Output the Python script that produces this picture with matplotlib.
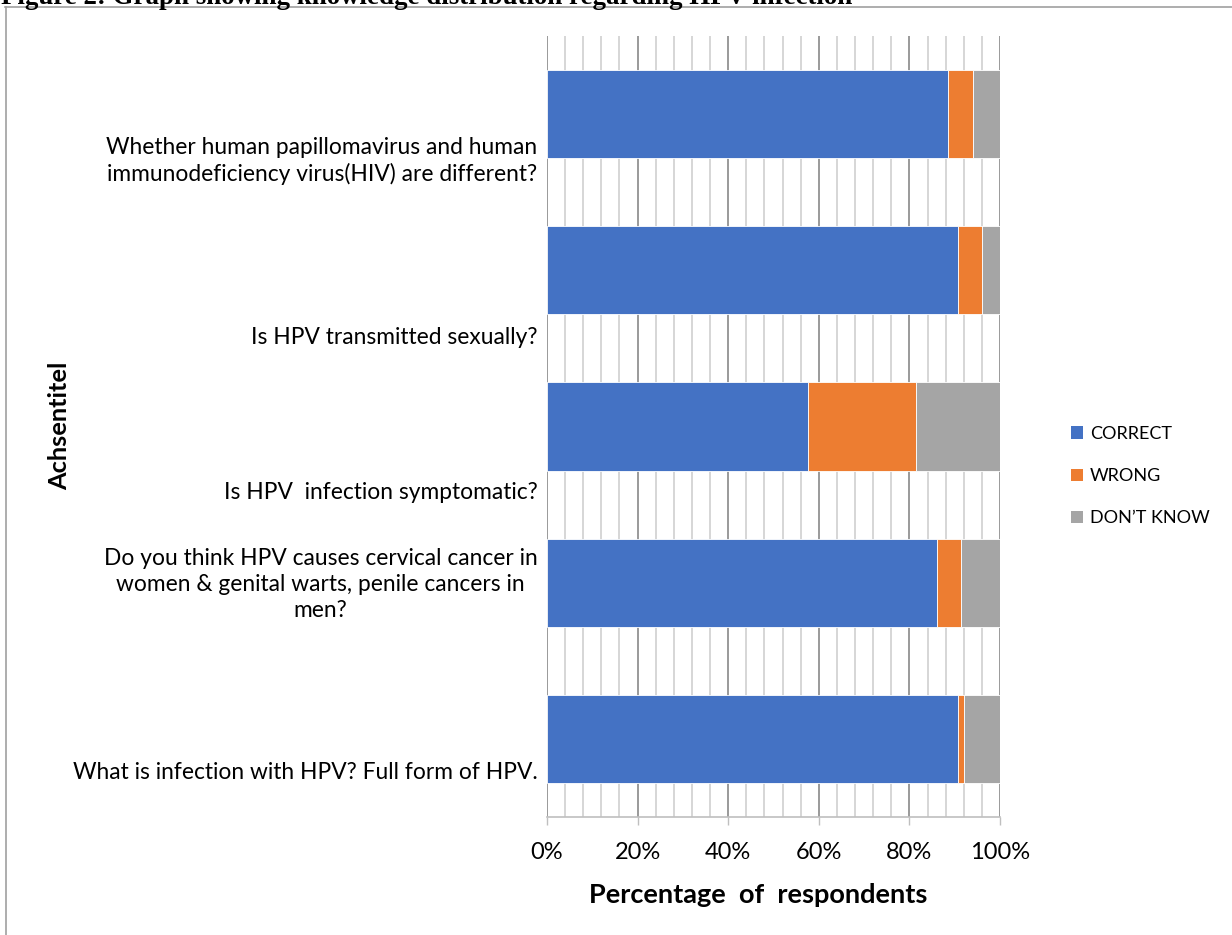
import matplotlib
matplotlib.use("Agg")
import matplotlib.pyplot as plt
from matplotlib.patches import Patch
from matplotlib.lines import Line2D
import numpy as np

# Survey questions (top to bottom)
questions = [
    "Whether human papillomavirus and human\nimmunodeficiency virus(HIV) are different?",
    "Is HPV transmitted sexually?",
    "Is HPV  infection symptomatic?",
    "Do you think HPV causes cervical cancer in\nwomen & genital warts, penile cancers in\nmen?",
    "What is infection with HPV? Full form of HPV.",
]
# Share of respondents per answer (%)
correct = [88.5, 90.8, 57.6, 86.1, 90.7]
wrong = [5.5, 5.2, 23.9, 5.3, 1.3]
dont_know = [6.0, 4.0, 18.5, 8.6, 8.0]

series_names = ["CORRECT", "WRONG", "DON\u2019T KNOW"]
series_colors = ["#4472C4", "#ED7D31", "#A5A5A5"]

# vertical placement of the category text relative to each band centre
label_shift = [0.27, 0.416, 0.41, -0.02, 0.205]

plt.rcParams["font.family"] = ["Lato", "DejaVu Sans"]

W, H = 1232, 935
fig = plt.figure(figsize=(W / 100, H / 100), dpi=100)
ax = fig.add_axes([547 / W, 1 - 817 / H, 453 / W, 781 / H])

pos = np.arange(len(questions))
shares = [np.array(correct), np.array(wrong), np.array(dont_know)]
left = np.zeros(len(questions))
for vals, name, col in zip(shares, series_names, series_colors):
    ax.barh(pos, vals / 100.0, left=left, height=0.564, color=col,
            edgecolor="white", linewidth=0.6, label=name, zorder=3)
    left = left + vals / 100.0

ax.set_xlim(0, 1)
ax.set_ylim(len(questions) - 0.5, -0.5)

# gridlines: minor every 4 %, major every 20 %
for x in np.arange(0, 1.0001, 0.04):
    major = abs(x / 0.2 - round(x / 0.2)) < 1e-6
    ax.axvline(x, color="#9a9a9a" if major else "#d0d0d0",
               linewidth=1.4 if major else 1.2, zorder=1)

for s in ["top", "right", "left"]:
    ax.spines[s].set_visible(False)
ax.spines["bottom"].set_color("#bfbfbf")
ax.spines["bottom"].set_linewidth(1.2)

ax.set_xticks(np.arange(0, 1.01, 0.2))
ax.set_xticklabels([f"{int(round(v * 100))}%" for v in np.arange(0, 1.01, 0.2)],
                   fontsize=17, color="black")
ax.tick_params(axis="x", direction="out", length=6, width=1.0,
               color="#bfbfbf", pad=12)

ax.set_yticks(pos + np.array(label_shift))
ax.set_yticklabels(questions, fontsize=16.4, multialignment="center",
                   linespacing=1.3)
ax.tick_params(axis="y", length=0, pad=7)

fig.text(758 / W, 1 - 895 / H, "Percentage  of  respondents", ha="center",
         va="center", fontsize=19.5, fontweight="bold")
fig.text(60 / W, 1 - 426 / H, "Achsentitel", ha="center", va="center",
         rotation=90, fontsize=18.3, fontweight="bold")

handles = [Patch(facecolor=c, edgecolor="none") for c in series_colors]
fig.legend(handles, series_names, loc="center left",
           bbox_to_anchor=(1055 / W, 1 - 476 / H), frameon=False,
           fontsize=13, handlelength=0.67, handleheight=0.67,
           handletextpad=0.35, labelspacing=1.45)

# caption above the chart frame
fig.text(1 / W, 1 - 4 / H,
         "Figure 2: Graph showing knowledge distribution regarding HPV infection",
         ha="left", va="baseline", fontsize=19.4, fontweight="bold",
         family=["Liberation Serif", "DejaVu Serif"])

# outer frame of the chart area
fig.add_artist(Line2D([5 / W, 1.0], [1 - 6.5 / H, 1 - 6.5 / H],
                      transform=fig.transFigure, color="#a0a0a0", linewidth=1.2))
fig.add_artist(Line2D([5.5 / W, 5.5 / W], [0, 1 - 6.5 / H],
                      transform=fig.transFigure, color="#a0a0a0", linewidth=1.2))

fig.savefig("out.png", dpi=100)
